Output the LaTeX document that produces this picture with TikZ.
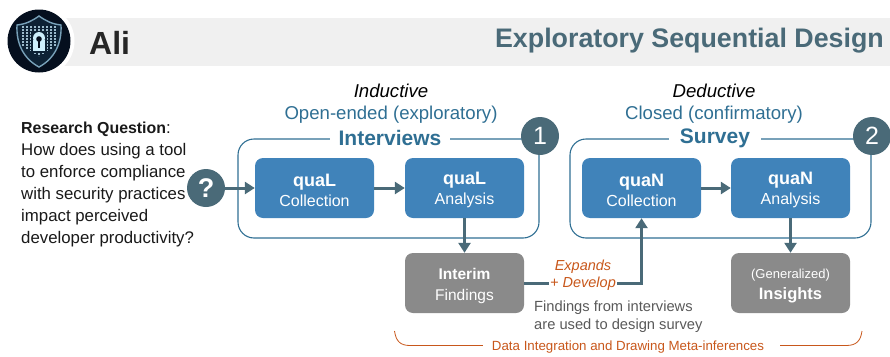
\documentclass[tikz,border=0pt]{standalone}
\usepackage{fontspec}
\setmainfont{Liberation Sans}
\usetikzlibrary{arrows.meta,calc}
\definecolor{bluebox}{HTML}{4083BA}
\definecolor{tealdark}{HTML}{4A6A78}
\definecolor{grayb}{HTML}{8A8A8A}
\definecolor{orangec}{HTML}{C8571B}
\definecolor{tealtext}{HTML}{2F6F93}
\definecolor{band}{HTML}{F0F0F0}
\definecolor{txtgray}{HTML}{595959}
\definecolor{navy}{HTML}{050F1E}
\newcommand{\fs}[1]{\fontsize{#1}{#1}\selectfont}
\newcommand{\tallstrut}{\rule{0pt}{17pt}}
\tikzset{
  x=1pt,y=-1pt,
  procbox/.style={rectangle,rounded corners=8pt,minimum width=119pt,minimum height=60pt,inner sep=0pt,align=center,text=white,font=\fs{16}},
  bluebx/.style={procbox,fill=bluebox},
  graybx/.style={procbox,fill=grayb},
  frame/.style={draw=tealtext,line width=1.1pt,rounded corners=16pt,minimum width=301pt,minimum height=99pt,inner sep=0pt},
  badge/.style={circle,fill=tealdark,text=white,minimum size=38pt,inner sep=0pt,font=\fs{25}},
  flow/.style={draw=tealdark,line width=3pt,-{Triangle[length=10pt,width=12pt]}},
  frametitle/.style={fill=white,inner sep=0pt,minimum height=22pt,text=tealtext,font=\bfseries\fs{21}},
  head/.style={align=center,font=\fs{18.6},text height=13pt,text depth=4pt,inner sep=0pt},
  orangeline/.style={draw=orangec,line width=0.8pt},
}
\begin{document}
\begin{tikzpicture}
\useasboundingbox (0,0) rectangle (890,356);
% header
\fill[band] (40,18) rectangle (890,66);
\node[circle,fill=white,minimum size=71pt,inner sep=0pt] (logoring) at (39,41) {};
\node[circle,fill=navy,minimum size=63pt,inner sep=0pt] (logo) at (39,41) {};
\fill[fill=navy!80!tealtext,draw=white!35!tealtext,line width=1.4pt]
  (39,16) .. controls (46,21) and (52,24) .. (61,25) .. controls (62,44) and (54,59) .. (39,67)
  .. controls (24,59) and (16,44) .. (17,25) .. controls (26,24) and (32,21) .. (39,16) -- cycle;
\foreach \xx in {23,27,...,55}{\draw[white!40!tealtext!80!white,line width=1.1pt,dash pattern=on 1.6pt off 1.4pt] (\xx,26) -- (\xx,{56-abs(\xx-39)*0.6});}
\fill[fill=navy!80!tealtext] (31,31) rectangle (47,53);
\fill[fill=white!80!cyan] (33,40) rectangle (45,51);
\fill[fill=white!80!cyan] (39,38) circle (6);
\fill[fill=navy] (39,39) circle (2.8);
\fill[fill=navy] (37.6,39) rectangle (40.4,48);
\node[anchor=west,inner sep=0pt,font=\bfseries\fs{32},text=black!85] (ali) at (89,43) {Ali};
\node[anchor=east,inner sep=0pt,font=\bfseries\fs{26.8},text=tealdark] (title) at (884,41) {Exploratory Sequential Design};
% research question
\node[anchor=north west,inner sep=0pt,align=left,font=\fontsize{16.8}{22}\selectfont,text=black!90] (rq) at (21,121.5) {\textbf{\fs{15.9}Research Question}:\\How does using a tool\\to enforce compliance\\with security practices\\impact perceived\\developer productivity?};
% frames
\node[frame] (frameA) at (388.5,188.5) {};
\node[frame] (frameB) at (720.5,188.5) {};
\node[frametitle,minimum width=120pt] (titleA) at (390,138) {Interviews};
\node[frametitle,minimum width=92pt] (titleB) at (715,138) {Survey};
\node[badge] (one) at (540,136) {1};
\node[badge] (two) at (872,136) {2};
\node[badge,font=\bfseries\fs{27}] (q) at (206,188) {?};
% headings
\node[head,font=\itshape\fs{18.6}] (indA) at (391,93) {Inductive};
\node[head,text=tealtext] (openA) at (391,115) {Open-ended (exploratory)};
\node[head,font=\itshape\fs{18.6}] (indB) at (714,93) {Deductive};
\node[head,text=tealtext] (openB) at (714,115) {Closed (confirmatory)};
% boxes
\node[bluebx] (qualc) at (314.5,188) {\tallstrut\textbf{\fs{18}quaL}\\[4pt]Collection};
\node[bluebx] (quala) at (464.5,188) {\tallstrut\textbf{\fs{18}quaL}\\[4pt]Analysis};
\node[bluebx] (quanc) at (641.5,188) {\tallstrut\textbf{\fs{18}quaN}\\[4pt]Collection};
\node[bluebx] (quana) at (790.5,188) {\tallstrut\textbf{\fs{18}quaN}\\[4pt]Analysis};
\node[graybx,font=\fs{15.5}] (interim) at (464.5,283) {\tallstrut\textbf{Interim}\\[5pt]Findings};
\node[graybx,font=\fs{16.5}] (insights) at (790.5,283) {\rule{0pt}{15pt}{\fs{13}(Generalized)}\\[5pt]\textbf{Insights}};
% connectors
\draw[flow] (q) -- (qualc);
\draw[flow] (qualc) -- (quala);
\draw[flow] (quala) -- (interim);
\draw[flow] (quanc) -- (quana);
\draw[flow] (quana) -- (insights);
\draw[flow] (interim.east) -| (quanc.south);
% labels
\node[fill=white,inner sep=1pt,font=\itshape\fs{14.5},text=orangec] (dev) at (583,283.5) {+ Develop};
\node[inner sep=0pt,font=\itshape\fs{14.5},text=orangec] (exp) at (583,266.5) {Expands};
\node[anchor=north west,inner sep=0pt,align=left,font=\fontsize{14.7}{18}\selectfont,text=txtgray] (findings) at (534,301) {Findings from interviews\\are used to design survey};
% integration bracket
\node[inner sep=0pt,font=\fs{13.3},text=orangec] (integ) at (628,347) {Data Integration and Drawing Meta-inferences};
\coordinate (bl) at (394.5,331);
\coordinate (br) at (862,331);
\draw[orangeline] (bl) .. controls (396,341) and (400,345.5) .. (410,345.5) -- ($(integ.west)+(-9,-1.5)$);
\draw[orangeline] (br) .. controls (860.5,341) and (856.5,345.5) .. (846,345.5) -- ($(integ.east)+(16,-1.5)$);
\end{tikzpicture}
\end{document}
